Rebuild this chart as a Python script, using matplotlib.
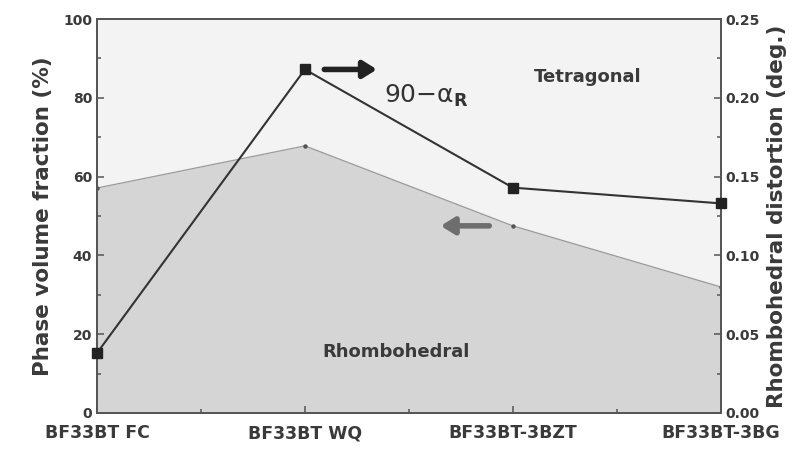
import matplotlib
matplotlib.use("Agg")
import matplotlib.pyplot as plt
import numpy as np

plt.rcParams['font.family'] = ['DejaVu Sans']

samples = ["BF33BT FC", "BF33BT WQ", "BF33BT-3BZT", "BF33BT-3BG"]
rhombo_frac = [57.1, 67.8, 47.5, 32.0]          # % rhombohedral phase
distortion = [0.038, 0.218, 0.143, 0.133]       # 90 - alpha_R (deg.)

txt = '#3a3a3a'
x = np.arange(len(samples))

fig = plt.figure(figsize=(8.08, 4.57), dpi=100)
ax = fig.add_axes([0.120, 0.0963, 0.772, 0.8621])
ax.set_facecolor('#f3f3f3')

# phase fractions as stacked areas
ax.fill_between(x, 0, rhombo_frac, color='#d5d5d5', lw=0)
ax.plot(x, rhombo_frac, color='#9a9a9a', lw=0.9, marker='o', ms=2.2,
        mfc='#555555', mec='#555555')
ax.set_xlim(0, 3)
ax.set_ylim(0, 100)
ax.set_yticks(np.arange(0, 101, 20))
ax.set_yticks(np.arange(10, 100, 20), minor=True)
ax.set_xticks(x)
ax.set_xticks([0.5, 1.5, 2.5], minor=True)
ax.set_xticklabels(samples, fontsize=12.5, fontweight='bold', color=txt)
ax.set_ylabel("Phase volume fraction (%)", fontsize=15.5, fontweight='bold',
              color=txt, labelpad=7)

ax2 = ax.twinx()
ax2.plot(x, distortion, color='#333333', lw=1.5, marker='s', ms=7.5,
         mfc='#222222', mec='#222222', clip_on=False, zorder=5)
ax2.set_ylim(0, 0.25)
ax2.set_yticks(np.arange(0, 0.26, 0.05))
ax2.set_yticks(np.arange(0.025, 0.25, 0.05), minor=True)
ax2.yaxis.set_major_formatter(matplotlib.ticker.FormatStrFormatter('%.2f'))
ax2.set_ylabel("Rhombohedral distortion (deg.)", fontsize=15.5,
               fontweight='bold', color=txt, labelpad=5)

for a in (ax, ax2):
    for s in a.spines.values():
        s.set_color('#555555')
        s.set_linewidth(1.3)
    a.tick_params(which='both', direction='in', color='#555555', width=1.1)
    a.tick_params(which='major', length=5)
    a.tick_params(which='minor', length=3)
    a.tick_params(axis='y', labelsize=10, labelcolor=txt)
    for lbl in a.get_yticklabels():
        lbl.set_fontweight('bold')
ax.tick_params(axis='x', pad=8, top=False)
ax2.tick_params(axis='x', top=False)

# arrows pointing to each axis
ax2.annotate('', xy=(1.36, distortion[1]), xytext=(1.08, distortion[1]),
             arrowprops=dict(arrowstyle='-|>,head_length=0.8,head_width=0.5',
                             color='#222222', lw=4))
ax.annotate('', xy=(1.64, rhombo_frac[2]), xytext=(1.9, rhombo_frac[2]),
            arrowprops=dict(arrowstyle='-|>,head_length=0.8,head_width=0.5',
                            color='#6e6e6e', lw=4))

ax.text(1.38, 80.5, r'90$-\mathregular{\alpha}_{\mathbf{R}}$', fontsize=18,
        color='#333333', va='center')
ax.text(2.1, 85.3, "Tetragonal", fontsize=13, fontweight='bold', color=txt,
        va='center')
ax.text(1.44, 15.5, "Rhombohedral", fontsize=13, fontweight='bold', color=txt,
        va='center', ha='center')

fig.savefig("out.png", dpi=100)
